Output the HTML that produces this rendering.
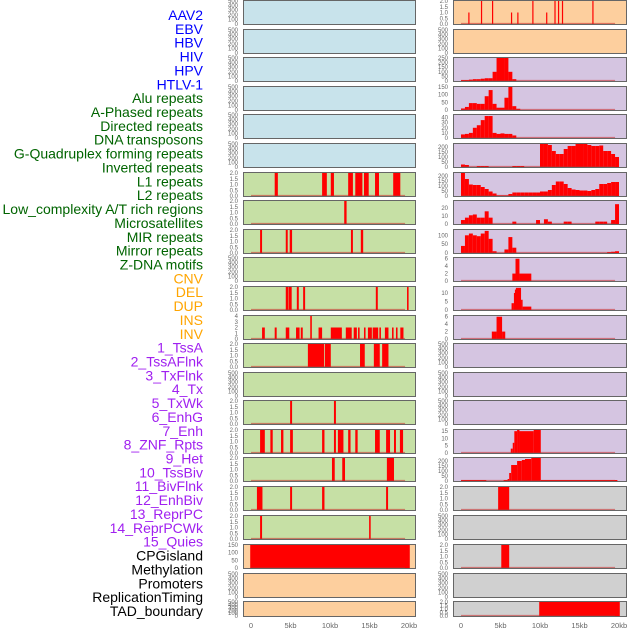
<!DOCTYPE html>
<html><head><meta charset="utf-8"><style>
html,body{margin:0;padding:0;background:#fff;}
svg{display:block;}
</style></head><body>
<svg id="chart" width="630" height="630" viewBox="0 0 630 630" xmlns="http://www.w3.org/2000/svg">
<g id="labels"></g>
<g id="panels"></g>
<g id="xaxes"></g>
</svg>
<script>
// ---- data ----
const trackNames = ["AAV2","EBV","HBV","HIV","HPV","HTLV-1","Alu repeats","A-Phased repeats","Directed repeats","DNA transposons","G-Quadruplex forming repeats","Inverted repeats","L1 repeats","L2 repeats","Low_complexity A/T rich regions","Microsatellites","MIR repeats","Mirror repeats","Z-DNA motifs","CNV","DEL","DUP","INS","INV","1_TssA","2_TssAFlnk","3_TxFlnk","4_Tx","5_TxWk","6_EnhG","7_Enh","8_ZNF_Rpts","9_Het","10_TssBiv","11_BivFlnk","12_EnhBiv","13_ReprPC","14_ReprPCWk","15_Quies","CPGisland","Methylation","Promoters","ReplicationTiming","TAD_boundary"];
const trackGroups = ["v","v","v","v","v","v","r","r","r","r","r","r","r","r","r","r","r","r","r","s","s","s","s","s","c","c","c","c","c","c","c","c","c","c","c","c","c","c","c","o","o","o","o","o"];
const kbTicks = [0,5,10,15,20];
const kbTickLabels = ["0","5kb","10kb","15kb","20kb"];

// left column intervals (kb)
const left6Start=[3.0,9.0,10.1,12.3,13.2,14.3,15.7,18.0];
const left6End=[3.4,9.6,10.5,12.9,14.1,14.9,16.2,18.9];
const left7Start=[11.8]; const left7End=[12.1];
const left8Start=[1.15,4.4,4.9,12.65,13.9]; const left8End=[1.4,4.65,5.2,12.9,14.2];
const left10Start=[4.4,4.75,5.8,6.6,15.8,19.75]; const left10End=[4.7,5.15,6.05,6.85,16.05,19.95];
const left11Start=[1.4,3.0,4.4,5.7,6.3,7.5,8.55,10.1,12.0,13.0,13.55,14.3,14.8,15.4,16.25,16.95,17.85,18.35,18.9];
const left11End=[1.75,3.25,4.85,6.15,6.55,7.7,9.0,11.5,12.75,13.4,13.75,14.5,15.3,16.1,16.45,17.4,18.05,18.55,19.3];
const left11Val=[2,2,2,2,2,4,2,2,2,2,2,2,2,2,2,2,2,2,2];
const left12Start=[7.2,9.35,13.8,15.55,16.6]; const left12End=[9.25,10.1,14.4,16.3,17.4];
const left14Start=[4.95,10.5]; const left14End=[5.2,10.75];
const left15Start=[1.15,2.45,3.8,4.95,9.0,10.5,11.0,12.3,13.2,15.7,17.1,18.1,18.85];
const left15End=[1.75,2.75,4.1,5.3,9.3,10.75,11.7,12.6,13.5,16.3,17.6,18.35,19.25];
const left16Start=[10.25,11.55,17.2]; const left16End=[10.6,11.9,18.1];
const left17Start=[0.75,4.95,9.0,17.1]; const left17End=[1.45,5.2,9.3,17.35];
const left18Start=[1.15,14.95]; const left18End=[1.4,15.15];
const left19Start=[-0.1]; const left19End=[20.1]; const left19Val=[150];

// right column
const aav2Pos=[1.0,2.6,4.0,6.4,7.2,9.1,10.85,11.9,12.35,12.85,16.7];
const aav2Val=[1,2,2,1,1,2,1,2,2,2,2];
// 0.5kb bins starting at 0kb
const hivBins=[10,10,15,20,20,25,30,30,100,250,260,260,100,20];
const aluBins=[10,20,45,45,40,40,90,130,40,15,15,80,150,25,8];
const aPhasedBins=[7,8,10,20,25,35,43,43,10,8,9,8,8,5];
const gQuadBins=[25,20,0,0,10,10,10,0,0,0,0,0,0,10,10,10,0,0,0,0,230,230,220,160,130,130,180,210,210,230,230,230,220,210,210,215,160,160,130,100];
const l1Bins=[230,170,115,110,110,90,70,45,25,5,5,5,20,35,35,35,35,35,35,35,45,45,60,110,145,145,120,80,65,60,55,55,50,60,70,120,120,130,140,140];
const lowCompBins=[5,8,11,12,8,8,16,8,0,0,0,0,0,3,0,0,0,0,0,5,0,6,3,0,0,0,3,3,0,0,0,0,0,0,3,3,3,0,5,25];
const mirBins=[40,100,110,100,95,110,125,80,10,0,0,20,90,30,0,0,0,0,0,0,0,0,0,0,0,0,0,0,0,0,0,0,0,0,0,0,0,5,7,10];
const right9Start=[6.5,6.9,7.4]; const right9End=[6.9,7.4,8.9]; const right9Val=[2,6,2];
const right10Start=[6.4,6.7,6.85,6.95,7.6,7.8]; const right10End=[6.7,6.85,6.95,7.6,7.8,8.9]; const right10Val=[4,10,12,13,6,2];
const right11Start=[3.9,4.5,5.2]; const right11End=[4.5,5.2,5.6]; const right11Val=[2,6,2];
const right15Start=[6.3,6.55,6.75,7.1,7.4,9.2]; const right15End=[6.55,6.75,7.1,7.4,9.2,10.1]; const right15Val=[3,7,15,16,15,16];
const right16Start=[0,5.4,5.9,6.1,6.35,7.1,7.7,8.1,8.9,10.1]; const right16End=[3.2,5.9,6.1,6.35,7.1,7.7,8.1,8.9,10.1,19.8]; const right16Val=[10,10,20,80,160,200,210,220,230,10];
const right17Start=[4.7]; const right17End=[6.1];
const right19Start=[5.1]; const right19End=[6.1];
const right21Start=[9.9]; const right21End=[20.1];

// ---- layout ----
const NS="http://www.w3.org/2000/svg";
const rowTops=[0,29,57,86,114,143,172,200,229,257,286,315,343,372,400,429,457,486,515,544,573,601];
const groupColor={v:"#0000ff",r:"#006400",s:"#ffa500",c:"#a020f0",o:"#000000"};
const BLUE="#c8e3eb",ORANGE="#fdcf9e",PURPLE="#d5c5e1",GREEN="#c6e0a5",GREY="#d0d0d0";
const T500=[0,100,200,300,400,500], T2=[0,0.5,1,1.5,2];
function mk(tag,attrs,parent){const e=document.createElementNS(NS,tag);for(const k in attrs)e.setAttribute(k,attrs[k]);if(parent)parent.appendChild(e);return e;}
function ivals(s,e,v){return s.map((x,i)=>({a:x,b:e[i],v:v?v[i]:null}));}
function bins(arr){return arr.map((v,i)=>({a:i*0.5,b:i*0.5+0.5,v:v})).filter(d=>d.v>0);}
function pts(p,v){return p.map((x,i)=>({a:x-0.06,b:x+0.06,v:v[i]}));}

const leftCfg=[];
for(let r=0;r<22;r++){
  let bg=r<6?BLUE:(r<19?GREEN:ORANGE);
  leftCfg.push({bg:bg,ymax:500,ticks:T500,fmt:0,data:null});
}
function setL(r,ymax,ticks,fmt,data){Object.assign(leftCfg[r],{ymax,ticks,fmt,data});}
setL(6,2,T2,1,ivals(left6Start,left6End));
setL(7,2,T2,1,ivals(left7Start,left7End));
setL(8,2,T2,1,ivals(left8Start,left8End));
setL(10,2,T2,1,ivals(left10Start,left10End));
setL(11,4,[0,1,2,3,4],0,ivals(left11Start,left11End,left11Val));
setL(12,2,T2,1,ivals(left12Start,left12End));
setL(14,2,T2,1,ivals(left14Start,left14End));
setL(15,2,T2,1,ivals(left15Start,left15End));
setL(16,2,T2,1,ivals(left16Start,left16End));
setL(17,2,T2,1,ivals(left17Start,left17End));
setL(18,2,T2,1,ivals(left18Start,left18End));
setL(19,150,[0,50,100,150],0,ivals(left19Start,left19End,left19Val));

const rightCfg=[];
for(let r=0;r<22;r++){
  let bg=r<2?ORANGE:(r<17?PURPLE:GREY);
  rightCfg.push({bg:bg,ymax:500,ticks:T500,fmt:0,data:null});
}
function setR(r,ymax,ticks,fmt,data){Object.assign(rightCfg[r],{ymax,ticks,fmt,data});}
setR(0,2,T2,1,pts(aav2Pos,aav2Val));
setR(2,250,[0,50,100,150,200,250],0,bins(hivBins));
setR(3,150,[0,50,100,150],0,bins(aluBins));
setR(4,45,[0,10,20,30,40],0,bins(aPhasedBins));
setR(5,230,[0,50,100,150,200],0,bins(gQuadBins));
setR(6,230,[0,50,100,150,200],0,bins(l1Bins));
setR(7,29,[0,10,20],0,bins(lowCompBins));
setR(8,130,[0,50,100],0,bins(mirBins));
setR(9,6.2,[0,2,4,6],0,ivals(right9Start,right9End,right9Val));
setR(10,13.5,[0,5,10],0,ivals(right10Start,right10End,right10Val));
setR(11,6.2,[0,2,4,6],0,ivals(right11Start,right11End,right11Val));
setR(15,15.8,[0,5,10,15],0,ivals(right15Start,right15End,right15Val));
setR(16,230,[0,50,100,150,200],0,ivals(right16Start,right16End,right16Val));
setR(17,2,T2,1,ivals(right17Start,right17End));
setR(19,2,T2,1,ivals(right19Start,right19End));
setR(21,2,T2,1,ivals(right21Start,right21End));

// ---- labels ----
const lg=document.getElementById('labels');
trackNames.forEach((n,i)=>{
  const t=mk('text',{x:203,y:15+i*13.86+5,'text-anchor':'end','font-family':'Liberation Sans, sans-serif','font-size':'14',fill:groupColor[trackGroups[i]]},lg);
  
  
  t.textContent=n;
});

// ---- panels ----
const pg=document.getElementById('panels');
function drawPanel(cfg,r,col){
  const x0=col===0?243:453, w=col===0?173:174, xz=col===0?251:461;
  const top=rowTops[r], h=r===21?16:25, bottom=top+h;
  const xs=kb=>xz+kb*7.9;
  const ys=v=>bottom-1-Math.min(v,cfg.ymax)/cfg.ymax*(h-2);
  const g=mk('g',{},pg);
  
  
  const bgr=mk('rect',{x:x0,y:top,width:w,height:h,fill:cfg.bg},g);
  
  
  if(cfg.data){
    cfg.data.forEach(d=>{
      const v=d.v===null?cfg.ymax:d.v;
      let xa=Math.max(xs(d.a),x0+1), xb=Math.min(xs(d.b),x0+w-1);
      if(xb-xa<1.2){const m=(xa+xb)/2;xa=m-0.6;xb=m+0.6;}
      const yt=ys(v);
      const b=mk('rect',{x:xa,y:yt,width:xb-xa,height:bottom-1-yt,fill:'#ff0000'},g);
      
      
    });
    const bl=mk('line',{x1:xs(0),x2:xs(19.5),y1:bottom-1.5,y2:bottom-1.5,stroke:'rgba(200,40,40,0.55)','stroke-width':1.3},g);
    
    
  }
  const br=mk('rect',{x:x0+0.5,y:top+0.5,width:w-1,height:h-1,fill:'none',stroke:'#666','stroke-width':1},g);
  
  
  cfg.ticks.forEach(t=>{
    const tl=mk('text',{x:x0-5,y:ys(t)+2,'text-anchor':'end','font-family':'Liberation Sans, sans-serif','font-size':'6',fill:'#666'},g);
    
    
    tl.textContent=cfg.fmt?t.toFixed(1):String(t);
  });
}
leftCfg.forEach((c,r)=>drawPanel(c,r,0));
rightCfg.forEach((c,r)=>drawPanel(c,r,1));

// ---- x axes ----
const xg=document.getElementById('xaxes');
[251,461].forEach((xz,ci)=>{
  kbTicks.forEach((k,i)=>{
    const t=mk('text',{x:xz+k*7.9,y:628,'text-anchor':'middle','font-family':'Liberation Sans, sans-serif','font-size':'7.5',fill:'#666'},xg);
    
    
    t.textContent=kbTickLabels[i];
  });
});
</script>
</body></html>
